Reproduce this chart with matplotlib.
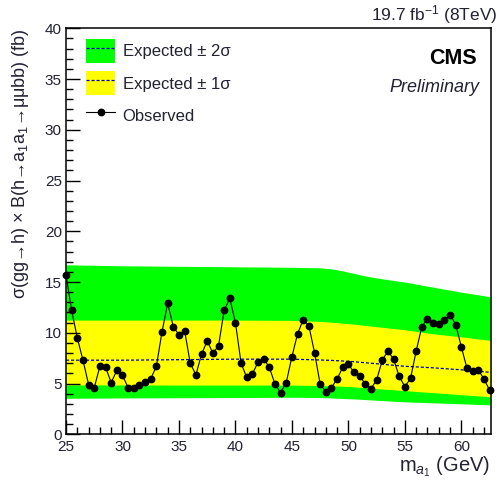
import matplotlib

matplotlib.use("Agg")
import matplotlib.pyplot as plt
from matplotlib.legend_handler import HandlerTuple
from matplotlib.lines import Line2D
from matplotlib.patches import Patch
from matplotlib.ticker import MultipleLocator

plt.rcParams["font.family"] = ["Liberation Sans", "DejaVu Sans"]
plt.rcParams["mathtext.fontset"] = "custom"
plt.rcParams["mathtext.rm"] = "Liberation Sans"
plt.rcParams["mathtext.it"] = "Liberation Sans:italic"
plt.rcParams["mathtext.bf"] = "Liberation Sans:bold"

# observed limit, 0.5 GeV steps from 25 to 62.5 GeV
obs_mass = [25.0 + 0.5 * i for i in range(76)]
obs_xsec = [
    15.7, 12.2, 9.5, 7.3, 4.9, 4.6, 6.7, 6.6, 5.1, 6.3,
    5.8, 4.6, 4.6, 4.9, 5.2, 5.45, 6.7, 10.1, 12.9, 10.6,
    9.8, 10.2, 7.0, 5.85, 7.9, 9.2, 8.0, 8.7, 12.2, 13.4,
    11.0, 7.0, 5.6, 5.95, 7.1, 7.45, 6.6, 4.95, 4.1, 5.1,
    7.65, 9.9, 11.3, 10.7, 8.05, 4.95, 4.2, 4.6, 5.45, 6.6,
    6.9, 6.1, 5.75, 4.95, 4.5, 5.35, 7.3, 8.2, 7.4, 5.7,
    4.7, 5.5, 8.2, 10.6, 11.4, 11.0, 10.9, 11.25, 11.8, 10.8,
    8.6, 6.5, 6.25, 6.35, 5.45, 4.35,
]

# expected limit and bands
band_mass = [25.0, 30.0, 35.0, 40.0, 45.0, 47.5, 48.5, 49.5, 50.5, 51.5,
             52.5, 55.0, 57.5, 60.0, 62.6]
exp_xsec = [7.3, 7.3, 7.35, 7.4, 7.4, 7.32, 7.28, 7.22, 7.15, 7.05,
            6.95, 6.7, 6.55, 6.35, 6.1]
up_1sig = [11.25, 11.25, 11.25, 11.25, 11.22, 11.12, 11.05, 10.95, 10.85,
           10.72, 10.6, 10.3, 9.9, 9.6, 9.25]
dn_1sig = [4.86, 4.86, 4.85, 4.85, 4.85, 4.8, 4.77, 4.73, 4.67, 4.6,
           4.5, 4.3, 4.1, 3.9, 3.7]
up_2sig = [16.7, 16.6, 16.55, 16.5, 16.45, 16.4, 16.3, 16.1, 15.85, 15.6,
           15.4, 15.0, 14.5, 14.0, 13.55]
dn_2sig = [3.55, 3.58, 3.6, 3.62, 3.65, 3.62, 3.58, 3.53, 3.48, 3.42,
           3.35, 3.2, 3.1, 3.0, 2.9]

fig = plt.figure(figsize=(4.99, 4.86), dpi=100)
ax = fig.add_axes([0.1323, 0.1064, 0.8511, 0.8354])

ax.fill_between(band_mass, dn_2sig, up_2sig, color="#00ff00", lw=0)
ax.fill_between(band_mass, dn_1sig, up_1sig, color="#ffff00", lw=0)
ax.plot(band_mass, exp_xsec, color="#0000cc", lw=0.9, dashes=(2.5, 1.5))
ax.plot(obs_mass, obs_xsec, color="black", lw=0.8, marker="o", ms=4.6,
        clip_on=False)

ax.set_xlim(25, 62.6)
ax.set_ylim(0, 40)
ax.xaxis.set_major_locator(MultipleLocator(5))
ax.xaxis.set_minor_locator(MultipleLocator(1))
ax.yaxis.set_major_locator(MultipleLocator(5))
ax.yaxis.set_minor_locator(MultipleLocator(1))
ax.tick_params(which="both", direction="in", top=False, right=False,
               labelsize=11, width=1.0, labelcolor="#222233")
ax.tick_params(axis="x", which="major", length=10, pad=4)
ax.tick_params(axis="y", which="major", length=10, pad=3)
ax.tick_params(which="minor", length=5)
for sp in ax.spines.values():
    sp.set_linewidth(1.1)

# legend
exp_line = Line2D([], [], color="#0000cc", lw=0.9, dashes=(2.5, 1.5))
h2 = (Patch(facecolor="#00ff00", lw=0), exp_line)
h1 = (Patch(facecolor="#ffff00", lw=0), exp_line)
h0 = Line2D([], [], color="black", lw=0.8, marker="o", ms=4.6)
leg = fig.legend([h2, h1, h0], ["Expected ± 2σ", "Expected ± 1σ", "Observed"],
                 handler_map={tuple: HandlerTuple(ndivide=1, pad=0)},
                 loc="upper left", bbox_to_anchor=(0.1723, 0.92),
                 bbox_transform=fig.transFigure, frameon=False, borderpad=0,
                 fontsize=12, handlelength=1.75, handleheight=1.85,
                 handletextpad=0.45, labelspacing=0.49, borderaxespad=0)
for t in leg.get_texts():
    t.set_color("#222233")

fig.text(0.996, 0.9588, r"19.7 fb$^{-1}$ (8TeV)", ha="right", va="baseline",
         fontsize=12.5, color="#222233")
fig.text(0.9553, 0.8683, "CMS", ha="right", va="baseline", fontsize=15.5,
         fontweight="bold")
fig.text(0.9605, 0.8114, "Preliminary", ha="right", va="baseline",
         fontsize=13, style="italic", color="#222233")

fig.text(0.042, 0.942, r"σ(gg→h) × B(h→a$_{1}$a$_{1}$→μμbb) (fb)",
         rotation=90, ha="center", va="top", fontsize=13, color="#222233")
fig.text(0.982, 0.0294, r"m$_{a_{1}}$ (GeV)", ha="right", va="baseline",
         fontsize=14.5, color="#222233")

fig.savefig("out.png", dpi=100)
